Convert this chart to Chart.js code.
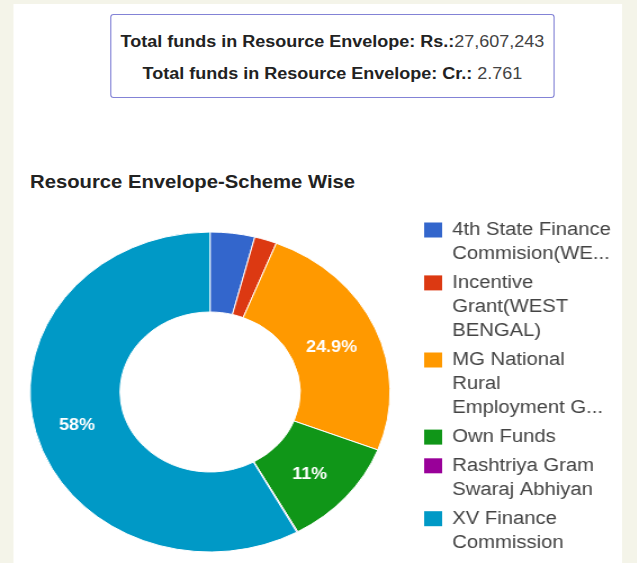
<!DOCTYPE html>
<html>
<head>
<meta charset="utf-8">
<script src="https://cdn.jsdelivr.net/npm/chart.js@4.4.1/dist/chart.umd.min.js"></script>
<style>
    html, body { margin: 0; padding: 0; background: #f4f4e9; overflow: hidden; }
    /* the reference is a horizontally stretched screenshot, so the whole page is stretched too */
    #page {
        position: relative; width: 566px; height: 563px;
        transform: scaleX(1.125); transform-origin: 0 0;
        font-family: "Liberation Sans", Arial, sans-serif;
    }
    #panel { position: absolute; left: 12px; top: 4px; width: 541px; height: 559px; background: #fff; }
    #totals {
        position: absolute; left: 98px; top: 14px; width: 393px; height: 82px;
        border: 1.5px solid #8383d6; border-radius: 3px; background: #fff;
    }
    .line { position: absolute; left: 0; right: 0; text-align: center; font-size: 16px; line-height: 18px; color: #222; }
    .line b { font-weight: bold; }
    .line span { color: #444; }
    #title { position: absolute; left: 26.7px; top: 173px; font-weight: bold; font-size: 18px; line-height: 18px; color: #222; }
    #chart { position: absolute; left: 12px; top: 150px; }
</style>
</head>
<body>
<div id="page">
    <div id="panel"></div>
    <div id="totals">
        <div class="line" style="top:17.5px"><b>Total funds in Resource Envelope: Rs.:</b><span id="totRs"></span></div>
        <div class="line" style="top:49.5px"><b>Total funds in Resource Envelope: Cr.:</b><span id="totCr"></span></div>
    </div>
    <div id="title">Resource Envelope-Scheme Wise</div>
    <canvas id="chart" width="541" height="413"></canvas>
</div>
<script>
    "use strict";

    const FONT = '"Liberation Sans", Arial, sans-serif';

    /* ── Data (Rs.) ── */
    const SCHEMES = [
        "4th State Finance Commision(WEST BENGAL)",
        "Incentive Grant(WEST BENGAL)",
        "MG National Rural Employment Guarantee Act",
        "Own Funds",
        "Rashtriya Gram Swaraj Abhiyan",
        "XV Finance Commission"
    ];
    const AMOUNTS = [1104290, 552145, 6874204, 3036797, 27607, 16012200];
    const COLORS = ["#3366cc", "#dc3912", "#ff9900", "#109618", "#990099", "#0099c6"];
    const LEGEND_MAX_LINES = [2, 3, 3, 2, 2, 2];

    const total = AMOUNTS.reduce((a, b) => a + b, 0);
    document.getElementById("totRs").textContent = total.toLocaleString("en-US");
    document.getElementById("totCr").textContent = " " + (total / 1e7).toFixed(3);

    function pctText(v) {
        const p = v / total * 100;
        return parseFloat(p.toPrecision(3)) + "%";
    }

    /* ── wrap a legend label, last line gets truncated with "..." ── */
    function wrapLabel(c, text, maxW, maxLines) {
        const words = text.split(" ");
        const lines = [];
        let cur = "";
        words.forEach(w => {
            const t = cur ? cur + " " + w : w;
            if (!cur || c.measureText(t).width <= maxW) cur = t;
            else { lines.push(cur); cur = w; }
        });
        if (cur) lines.push(cur);
        if (lines.length > maxLines) {
            let rest = lines.slice(maxLines - 1).join(" ");
            while (rest.length && c.measureText(rest + "...").width > maxW) rest = rest.slice(0, -1);
            lines.length = maxLines - 1;
            lines.push(rest + "...");
        }
        return lines;
    }

    /* ── slice percentage labels ── */
    const sliceLabels = {
        id: "sliceLabels",
        afterDatasetsDraw(chart) {
            const c = chart.ctx;
            const meta = chart.getDatasetMeta(0);
            c.save();
            c.font = "bold 16px " + FONT;
            c.fillStyle = "#fff";
            c.textAlign = "center";
            c.textBaseline = "middle";
            meta.data.forEach((arc, i) => {
                const v = chart.data.datasets[0].data[i];
                if (v / total < 0.05) return;
                const p = arc.tooltipPosition();
                c.fillText(pctText(v), p.x - 2, p.y + 4);
            });
            c.restore();
        }
    };

    /* ── Google-style legend on the right ── */
    const sideLegend = {
        id: "sideLegend",
        afterDraw(chart) {
            const c = chart.ctx;
            const size = 18, lineH = 24.2, gap = 4.5;
            const boxX = 365, textX = 390;
            let y = 80;
            c.save();
            c.font = size + "px " + FONT;
            c.textBaseline = "middle";
            chart.data.labels.forEach((lab, i) => {
                c.fillStyle = chart.data.datasets[0].backgroundColor[i];
                c.fillRect(boxX, y - 7.5, 16, 15);
                c.fillStyle = "#444";
                const lines = wrapLabel(c, lab, size * 7.92, LEGEND_MAX_LINES[i]);
                lines.forEach((ln, k) => c.fillText(ln, textX, y + k * lineH));
                y += lines.length * lineH + gap;
            });
            c.restore();
        }
    };

    new Chart(document.getElementById("chart"), {
        type: "doughnut",
        data: {
            labels: SCHEMES,
            datasets: [{
                data: AMOUNTS,
                backgroundColor: COLORS,
                borderColor: "#fff",
                borderWidth: 1
            }]
        },
        options: {
            responsive: false,
            animation: false,
            cutout: "50%",
            layout: { padding: { left: 14.2, right: 205.8, top: 81.5, bottom: 10.5 } },
            plugins: {
                legend: { display: false },
                tooltip: { enabled: false }
            }
        },
        plugins: [sliceLabels, sideLegend]
    });
</script>
</body>
</html>
